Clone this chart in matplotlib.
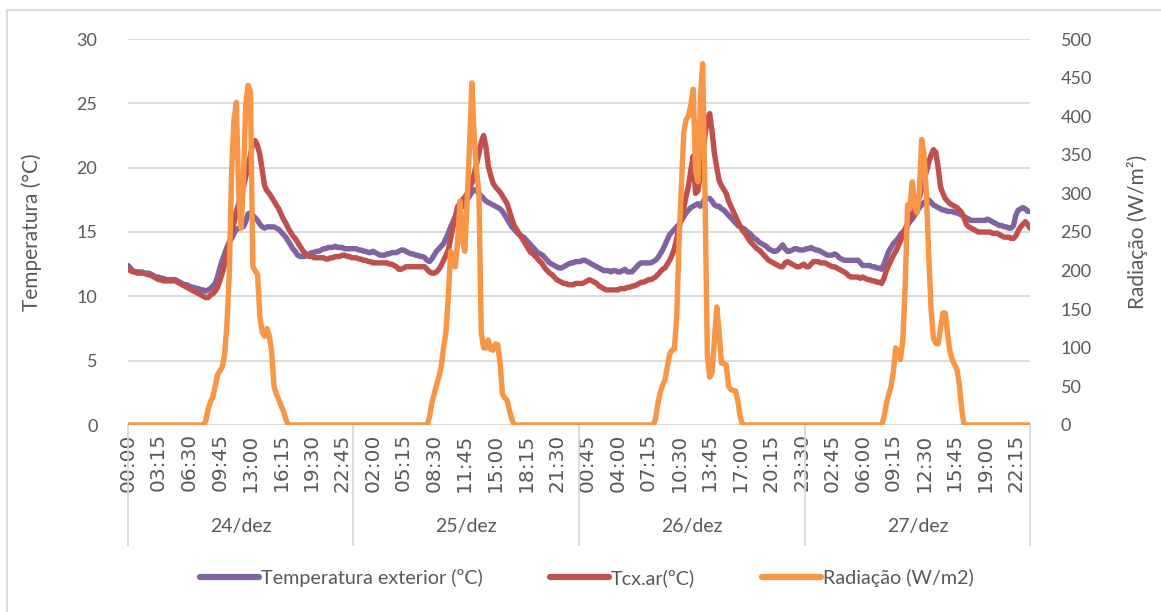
import numpy as np
import matplotlib
matplotlib.use("Agg")
import matplotlib.pyplot as plt
from matplotlib.patches import Rectangle
from matplotlib.lines import Line2D
import matplotlib.transforms as mtransforms

# ---------------- data (15 min steps, 4 days) ----------------
days = ["24/dez", "25/dez", "26/dez", "27/dez"]
tick_labels = ["00:00", "03:15", "06:30", "09:45", "13:00", "16:15", "19:30", "22:45",
               "02:00", "05:15", "08:30", "11:45", "15:00", "18:15", "21:30",
               "00:45", "04:00", "07:15", "10:30", "13:45", "17:00", "20:15", "23:30",
               "02:45", "06:00", "09:15", "12:30", "15:45", "19:00", "22:15"]

temp_ext = [
    # 24/dez
    12.4, 12.2, 12.0, 11.9, 11.9, 11.9, 11.9, 11.8, 11.8, 11.8, 11.7, 11.6,
    11.5, 11.5, 11.4, 11.4, 11.3, 11.3, 11.3, 11.3, 11.3, 11.2, 11.1, 11.0,
    10.9, 10.9, 10.8, 10.7, 10.7, 10.6, 10.6, 10.5, 10.5, 10.4, 10.5, 10.6,
    10.8, 11.0, 11.5, 12.2, 12.8, 13.3, 13.8, 14.2, 14.5, 14.9, 15.2, 15.3,
    15.4, 15.4, 15.8, 16.4, 16.5, 16.3, 16.1, 15.9, 15.6, 15.4, 15.3, 15.4,
    15.4, 15.4, 15.4, 15.3, 15.2, 15.0, 14.8, 14.6, 14.3, 14.0, 13.7, 13.5,
    13.2, 13.1, 13.1, 13.1, 13.2, 13.3, 13.4, 13.4, 13.5, 13.5, 13.6, 13.7,
    13.7, 13.8, 13.8, 13.8, 13.9, 13.8, 13.8, 13.8, 13.7, 13.7, 13.7, 13.7,
    # 25/dez
    13.7, 13.7, 13.6, 13.6, 13.5, 13.5, 13.4, 13.4, 13.5, 13.4, 13.3, 13.2,
    13.2, 13.2, 13.3, 13.3, 13.4, 13.4, 13.4, 13.5, 13.6, 13.6, 13.5, 13.4,
    13.3, 13.3, 13.2, 13.2, 13.1, 13.1, 13.0, 12.8, 12.7, 12.9, 13.2, 13.5,
    13.7, 13.9, 14.1, 14.5, 14.9, 15.4, 15.8, 16.2, 16.5, 16.8, 17.0, 17.2,
    17.5, 17.8, 18.1, 18.3, 18.2, 18.0, 17.8, 17.6, 17.4, 17.3, 17.2, 17.1,
    17.0, 16.9, 16.8, 16.6, 16.3, 16.0, 15.7, 15.4, 15.2, 15.0, 14.8, 14.7,
    14.6, 14.4, 14.2, 14.0, 13.8, 13.6, 13.4, 13.3, 13.2, 13.0, 12.8, 12.6,
    12.5, 12.4, 12.3, 12.2, 12.2, 12.3, 12.4, 12.5, 12.6, 12.6, 12.7, 12.7,
    # 26/dez
    12.7, 12.8, 12.8, 12.7, 12.6, 12.5, 12.4, 12.3, 12.2, 12.1, 12.0, 12.0,
    12.0, 11.9, 12.0, 12.0, 11.9, 11.9, 12.0, 12.1, 11.9, 11.9, 11.9, 12.1,
    12.3, 12.5, 12.6, 12.6, 12.6, 12.6, 12.6, 12.7, 12.8, 13.0, 13.3, 13.6,
    14.0, 14.4, 14.8, 15.0, 15.2, 15.4, 15.6, 15.9, 16.2, 16.5, 16.7, 16.9,
    17.0, 17.1, 17.2, 17.0, 17.3, 17.6, 17.6, 17.6, 17.4, 17.1, 17.0, 17.0,
    16.8, 16.7, 16.5, 16.3, 16.1, 15.9, 15.7, 15.5, 15.4, 15.3, 15.2, 15.0,
    14.9, 14.7, 14.5, 14.4, 14.2, 14.1, 14.0, 13.9, 13.7, 13.6, 13.5, 13.5,
    13.6, 13.8, 14.0, 13.7, 13.5, 13.5, 13.6, 13.7, 13.7, 13.6, 13.6, 13.6,
    # 27/dez
    13.7, 13.7, 13.8, 13.7, 13.6, 13.6, 13.5, 13.4, 13.3, 13.2, 13.2, 13.2,
    13.3, 13.2, 13.0, 12.9, 12.8, 12.8, 12.8, 12.8, 12.8, 12.8, 12.8, 12.6,
    12.4, 12.4, 12.4, 12.4, 12.3, 12.3, 12.2, 12.2, 12.1, 12.5, 13.0, 13.5,
    13.8, 14.1, 14.3, 14.5, 14.8, 15.0, 15.2, 15.5, 15.8, 16.0, 16.3, 16.6,
    16.9, 17.1, 17.3, 17.4, 17.5, 17.3, 17.1, 17.0, 16.9, 16.8, 16.7, 16.7,
    16.6, 16.6, 16.6, 16.5, 16.5, 16.4, 16.3, 16.2, 16.1, 16.0, 15.9, 15.9,
    15.9, 15.9, 15.9, 15.9, 15.9, 16.0, 15.9, 15.8, 15.7, 15.6, 15.5, 15.5,
    15.4, 15.4, 15.3, 15.3, 15.5, 16.3, 16.7, 16.8, 16.9, 16.8, 16.6, 16.6,
]

temp_cx = [
    # 24/dez
    12.1, 12.0, 11.9, 11.9, 11.8, 11.8, 11.8, 11.8, 11.7, 11.7, 11.6, 11.5,
    11.4, 11.3, 11.3, 11.2, 11.2, 11.2, 11.2, 11.2, 11.2, 11.1, 11.0, 10.9,
    10.8, 10.7, 10.6, 10.5, 10.4, 10.3, 10.2, 10.1, 10.0, 9.9, 9.9, 10.1,
    10.2, 10.4, 10.7, 11.2, 11.8, 12.5, 13.3, 14.1, 14.9, 15.7, 16.6, 17.2,
    17.8, 18.5, 19.3, 20.0, 21.0, 21.9, 22.1, 21.7, 21.0, 19.8, 18.6, 18.2,
    18.0, 17.7, 17.4, 17.1, 16.8, 16.4, 16.0, 15.7, 15.3, 15.0, 14.7, 14.5,
    14.2, 13.9, 13.6, 13.4, 13.2, 13.1, 13.1, 13.0, 13.0, 13.0, 13.0, 13.0,
    12.9, 12.9, 13.0, 13.0, 13.1, 13.1, 13.1, 13.2, 13.2, 13.1, 13.1, 13.0,
    # 25/dez
    13.0, 13.0, 12.9, 12.9, 12.8, 12.8, 12.7, 12.7, 12.6, 12.6, 12.6, 12.6,
    12.6, 12.6, 12.6, 12.5, 12.5, 12.4, 12.3, 12.1, 12.1, 12.2, 12.3, 12.3,
    12.3, 12.3, 12.3, 12.3, 12.3, 12.3, 12.3, 12.1, 11.9, 11.8, 11.8, 11.9,
    12.1, 12.4, 12.8, 13.2, 13.6, 14.5, 15.4, 16.2, 17.0, 17.2, 17.5, 17.7,
    18.0, 18.4, 18.8, 19.5, 20.3, 21.1, 22.0, 22.5, 21.6, 20.1, 19.4, 18.8,
    18.5, 18.3, 18.1, 17.8, 17.5, 17.2, 16.6, 16.0, 15.5, 15.2, 14.9, 14.6,
    14.3, 14.0, 13.7, 13.4, 13.3, 13.1, 12.9, 12.7, 12.5, 12.2, 12.0, 11.8,
    11.7, 11.5, 11.3, 11.2, 11.1, 11.0, 11.0, 10.9, 10.9, 10.9, 11.0, 11.0,
    # 26/dez
    11.0, 11.0, 11.1, 11.2, 11.3, 11.2, 11.1, 11.0, 10.8, 10.7, 10.6, 10.5,
    10.5, 10.5, 10.5, 10.5, 10.5, 10.6, 10.6, 10.6, 10.7, 10.7, 10.8, 10.8,
    10.9, 11.0, 11.1, 11.1, 11.2, 11.3, 11.3, 11.4, 11.5, 11.7, 11.9, 12.1,
    12.2, 12.5, 12.8, 13.2, 13.7, 14.5, 15.4, 16.2, 16.9, 17.8, 18.6, 19.8,
    20.9, 18.0, 18.2, 19.5, 21.0, 22.5, 23.8, 24.2, 22.8, 21.1, 20.0, 19.0,
    18.6, 18.3, 18.0, 17.4, 17.0, 16.6, 16.2, 15.8, 15.4, 15.1, 14.9, 14.6,
    14.3, 14.1, 13.9, 13.7, 13.6, 13.4, 13.2, 13.0, 12.8, 12.7, 12.6, 12.5,
    12.4, 12.3, 12.3, 12.6, 12.7, 12.6, 12.5, 12.4, 12.3, 12.3, 12.4, 12.5,
    # 27/dez
    12.3, 12.3, 12.5, 12.7, 12.7, 12.7, 12.6, 12.6, 12.6, 12.5, 12.4, 12.3,
    12.3, 12.2, 12.1, 12.0, 11.9, 11.8, 11.6, 11.5, 11.5, 11.5, 11.5, 11.4,
    11.5, 11.4, 11.3, 11.3, 11.2, 11.2, 11.1, 11.1, 11.0, 11.4, 12.0, 12.4,
    12.8, 13.2, 13.5, 13.9, 14.3, 14.8, 15.2, 15.7, 16.1, 16.4, 16.9, 17.2,
    17.7, 18.3, 19.0, 19.7, 20.4, 21.0, 21.4, 21.2, 20.0, 18.5, 18.0, 17.6,
    17.4, 17.2, 17.1, 17.0, 16.9, 16.7, 16.5, 16.1, 15.6, 15.4, 15.3, 15.2,
    15.1, 15.0, 15.0, 15.0, 15.0, 15.0, 15.0, 14.9, 14.9, 14.9, 14.8, 14.7,
    14.6, 14.6, 14.6, 14.5, 14.5, 14.7, 15.1, 15.4, 15.6, 15.8, 15.6, 15.3,
]

radiacao = [
    # 24/dez
    0, 0, 0, 0, 0, 0, 0, 0, 0, 0, 0, 0,
    0, 0, 0, 0, 0, 0, 0, 0, 0, 0, 0, 0,
    0, 0, 0, 0, 0, 0, 0, 0, 0, 5, 20, 30,
    36, 50, 65, 70, 75, 90, 130, 195, 330, 395, 418, 300,
    255, 315, 415, 440, 432, 205, 200, 195, 140, 120, 115, 125,
    115, 95, 50, 40, 33, 25, 18, 8, 0, 0, 0, 0,
    0, 0, 0, 0, 0, 0, 0, 0, 0, 0, 0, 0,
    0, 0, 0, 0, 0, 0, 0, 0, 0, 0, 0, 0,
    # 25/dez
    0, 0, 0, 0, 0, 0, 0, 0, 0, 0, 0, 0,
    0, 0, 0, 0, 0, 0, 0, 0, 0, 0, 0, 0,
    0, 0, 0, 0, 0, 0, 0, 0, 10, 28, 40, 52,
    62, 76, 100, 120, 165, 225, 210, 205, 240, 290, 240, 225,
    290, 360, 443, 375, 330, 300, 120, 100, 100, 110, 98, 97,
    105, 104, 80, 40, 35, 32, 18, 8, 0, 0, 0, 0,
    0, 0, 0, 0, 0, 0, 0, 0, 0, 0, 0, 0,
    0, 0, 0, 0, 0, 0, 0, 0, 0, 0, 0, 0,
    # 26/dez
    0, 0, 0, 0, 0, 0, 0, 0, 0, 0, 0, 0,
    0, 0, 0, 0, 0, 0, 0, 0, 0, 0, 0, 0,
    0, 0, 0, 0, 0, 0, 0, 0, 8, 28, 42, 52,
    58, 75, 92, 97, 99, 140, 240, 310, 380, 396, 400, 415,
    435, 330, 315, 420, 468, 300, 90, 62, 68, 110, 153, 120,
    80, 80, 78, 50, 46, 45, 44, 30, 10, 0, 0, 0,
    0, 0, 0, 0, 0, 0, 0, 0, 0, 0, 0, 0,
    0, 0, 0, 0, 0, 0, 0, 0, 0, 0, 0, 0,
    # 27/dez
    0, 0, 0, 0, 0, 0, 0, 0, 0, 0, 0, 0,
    0, 0, 0, 0, 0, 0, 0, 0, 0, 0, 0, 0,
    0, 0, 0, 0, 0, 0, 0, 0, 0, 10, 27, 40,
    50, 70, 100, 95, 85, 110, 180, 285, 280, 315, 285, 275,
    300, 370, 350, 300, 220, 150, 112, 106, 105, 125, 145, 145,
    118, 95, 85, 78, 72, 52, 20, 0, 0, 0, 0, 0,
    0, 0, 0, 0, 0, 0, 0, 0, 0, 0, 0, 0,
    0, 0, 0, 0, 0, 0, 0, 0, 0, 0, 0, 0,
]

# ---------------- style ----------------
C_EXT = "#8064A2"
C_CX = "#C0504D"
C_RAD = "#F79646"
GRID = "#D9D9D9"
TXT = "#595959"
plt.rcParams["font.family"] = ["Lato", "DejaVu Sans"]

n = len(temp_ext)
x = np.arange(n)
per_day = n // len(days)

fig = plt.figure(figsize=(11.61, 6.12), dpi=100)
ax = fig.add_axes([128 / 1161, 1 - 425 / 612, 902 / 1161, 386 / 612])
ax2 = ax.twinx()

lw = 3.9
ax.plot(x, temp_ext, color=C_EXT, lw=lw, solid_joinstyle="round", solid_capstyle="round")
ax.plot(x, temp_cx, color=C_CX, lw=lw, solid_joinstyle="round", solid_capstyle="round")
ax2.plot(x, radiacao, color=C_RAD, lw=lw, solid_joinstyle="round", solid_capstyle="round")

ax.set_xlim(0, n - 1)
ax.set_ylim(0, 30)
ax2.set_ylim(0, 500)
ax.set_yticks(np.arange(0, 31, 5))
ax2.set_yticks(np.arange(0, 501, 50))
ax.yaxis.grid(True, color=GRID, lw=1.3)
ax.set_axisbelow(True)

for a in (ax, ax2):
    for s in a.spines.values():
        s.set_visible(False)
ax.tick_params(axis="y", length=0, pad=22, labelsize=13, labelcolor=TXT)
ax2.tick_params(axis="y", length=0, pad=22, labelsize=13, labelcolor=TXT)

tick_pos = x[::13]
ax.set_xticks(tick_pos)
ax.set_xticklabels(tick_labels, rotation=90, fontsize=14.5, color=TXT,
                   family=["DejaVu Sans"])
ax.tick_params(axis="x", length=0, pad=6)

# multi-level category axis: separators + day labels
tr = mtransforms.blended_transform_factory(ax.transData, ax.transAxes)
bounds = [0] + [k * per_day - 0.5 for k in range(1, len(days))] + [n - 1]
for b in bounds:
    ax.plot([b, b], [0, -0.311], color=GRID, lw=1.3, transform=tr, clip_on=False)
for k, d in enumerate(days):
    ax.text((bounds[k] + bounds[k + 1]) / 2, -0.264, d, transform=tr,
            ha="center", va="center", fontsize=14, color=TXT)

fig.text(32 / 1161, 1 - 232 / 612, "Temperatura (°C)", rotation=90,
         ha="center", va="center", fontsize=15, color=TXT)
fig.text(1137 / 1161, 1 - 232 / 612, "Radiação (W/m²)", rotation=90,
         ha="center", va="center", fontsize=15, color=TXT)

handles = [Line2D([], [], color=C_EXT, lw=4.5, solid_capstyle="round"),
           Line2D([], [], color=C_CX, lw=4.5, solid_capstyle="round"),
           Line2D([], [], color=C_RAD, lw=4.5, solid_capstyle="round")]
names = ["Temperatura exterior (ºC)", "Tcx.ar(ºC)", "Radiação (W/m2)"]
leg = fig.legend(handles, names, loc="center", bbox_to_anchor=(587 / 1161, 1 - 578 / 612),
                 ncol=3, frameon=False, handlelength=3.0,
                 handletextpad=0.1, columnspacing=3.4,
                 prop={"family": ["Lato", "DejaVu Sans"], "size": 14.2})
for t in leg.get_texts():
    t.set_color(TXT)

# chart area border (only top/left visible in the crop)
fig.patches.append(Rectangle((6.5 / 1161, -0.1), 1.2, (1 - 9.5 / 612) + 0.1,
                             transform=fig.transFigure, fill=False,
                             edgecolor=GRID, lw=1.3))

fig.savefig("out.png", dpi=100)
